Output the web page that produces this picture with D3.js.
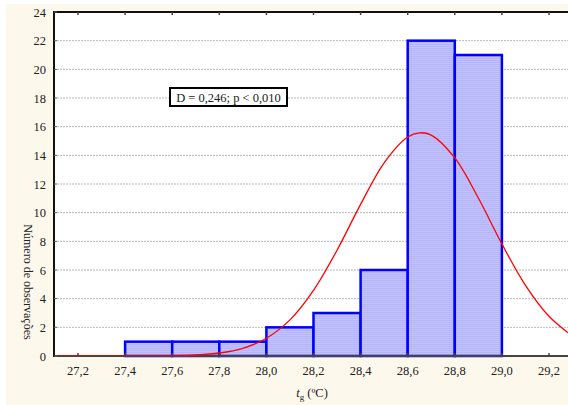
<!DOCTYPE html>
<html>
<head>
<meta charset="utf-8">
<script src="https://cdn.jsdelivr.net/npm/d3@7"></script>
<style>
  html, body { margin: 0; padding: 0; background: #fff; }
  svg { display: block; }
  text { font-family: "Liberation Serif", "DejaVu Serif", serif; fill: #222; }
</style>
</head>
<body>
<svg id="chart"></svg>
<script>
// histogram classes (lower edge) and counts
const binStarts = [27.4, 27.6, 27.8, 28.0, 28.2, 28.4, 28.6, 28.8]
const binWidth = 0.2
const counts = [1, 1, 1, 2, 3, 6, 22, 21]

// fitted normal curve
const curveX = [27.1, 27.2, 27.3, 27.4, 27.5, 27.6, 27.7, 27.8, 27.9, 28.0, 28.1, 28.2, 28.3, 28.4, 28.5, 28.6, 28.65, 28.7, 28.8, 28.9, 29.0, 29.1, 29.2, 29.3]
const curveY = [0, 0, 0, 0, 0.01, 0.02, 0.07, 0.21, 0.54, 1.24, 2.52, 4.58, 7.38, 10.58, 13.48, 15.28, 15.57, 15.41, 13.82, 11.02, 7.82, 4.93, 2.77, 1.38]

const xTicks = [27.2, 27.4, 27.6, 27.8, 28.0, 28.2, 28.4, 28.6, 28.8, 29.0, 29.2]
const yTicks = [0, 2, 4, 6, 8, 10, 12, 14, 16, 18, 20, 22, 24]
const annotation = 'D = 0,246; p < 0,010'

const width = 568, height = 405
const svg = d3.select('#chart').attr('width', width).attr('height', height)

const plotLeft = 54, plotTop = 12, plotBottom = 356

const x = d3.scaleLinear().domain([27.2, 29.2]).range([78, 549])
const y = d3.scaleLinear().domain([0, 24]).range([plotBottom, plotTop])
const fmt = d => d3.format('.1f')(d).replace('.', ',')

// cream page background
svg.append('rect').attr('x', 6).attr('y', 4).attr('width', width - 6).attr('height', height - 4)
  .attr('fill', '#fdf8ec')

// plot area
svg.append('rect').attr('x', plotLeft).attr('y', plotTop).attr('width', width - plotLeft).attr('height', plotBottom - plotTop)
  .attr('fill', '#fff')

const defs = svg.append('defs')
defs.append('clipPath').attr('id', 'plotclip')
  .append('rect').attr('x', plotLeft).attr('y', plotTop).attr('width', width - plotLeft).attr('height', plotBottom - plotTop)

const pat = defs.append('pattern').attr('id', 'stripes')
  .attr('patternUnits', 'userSpaceOnUse').attr('width', 4).attr('height', 2)
pat.append('rect').attr('width', 4).attr('height', 2).attr('fill', '#c2c2ff')
pat.append('rect').attr('width', 4).attr('height', 1).attr('fill', '#b4b4f6')

// grid
svg.append('g').selectAll('line')
  .data(yTicks.filter(d => d > 0 && d < 24))
  .enter().append('line')
  .attr('x1', plotLeft).attr('x2', width)
  .attr('y1', d => y(d)).attr('y2', d => y(d))
  .attr('stroke', '#b8b8b8').attr('stroke-width', 1)
  .attr('stroke-dasharray', '2,1')

// bars
svg.append('g').selectAll('rect')
  .data(counts)
  .enter().append('rect')
  .attr('x', (d, i) => x(binStarts[i]))
  .attr('y', d => y(d))
  .attr('width', (d, i) => x(binStarts[i] + binWidth) - x(binStarts[i]))
  .attr('height', d => y(0) - y(d))
  .attr('fill', 'url(#stripes)')
  .attr('stroke', '#0000ff').attr('stroke-width', 2.5)

// axes lines
svg.append('line').attr('x1', plotLeft).attr('x2', width).attr('y1', plotBottom).attr('y2', plotBottom)
  .attr('stroke', '#444').attr('stroke-width', 2)
svg.append('line').attr('x1', plotLeft).attr('x2', width).attr('y1', plotTop).attr('y2', plotTop)
  .attr('stroke', '#111').attr('stroke-width', 2)
svg.append('line').attr('x1', plotLeft).attr('x2', plotLeft).attr('y1', plotTop - 1).attr('y2', plotBottom + 1)
  .attr('stroke', '#111').attr('stroke-width', 2)

// fitted curve
const line = d3.line()
  .x((d, i) => x(curveX[i]))
  .y(d => y(d))
  .curve(d3.curveCatmullRom)
svg.append('path').datum(curveY)
  .attr('clip-path', 'url(#plotclip)')
  .attr('d', line)
  .attr('fill', 'none')
  .attr('stroke', '#ff0000').attr('stroke-width', 1.3)

// x axis ticks (inward) and labels
const xg = svg.append('g')
xTicks.forEach(t => {
  xg.append('line').attr('x1', x(t)).attr('x2', x(t)).attr('y1', plotBottom).attr('y2', plotBottom - 3)
    .attr('stroke', '#444').attr('stroke-width', 1.5)
  xg.append('line').attr('x1', x(t)).attr('x2', x(t)).attr('y1', plotTop).attr('y2', plotTop + 3)
    .attr('stroke', '#444').attr('stroke-width', 1.5)
  xg.append('text').attr('x', x(t)).attr('y', 375)
    .attr('text-anchor', 'middle').attr('font-size', 12.5)
    .text(fmt(t))
})

// y axis ticks and labels
const yg = svg.append('g')
yTicks.forEach(t => {
  yg.append('line').attr('x1', plotLeft).attr('x2', plotLeft + 3).attr('y1', y(t)).attr('y2', y(t))
    .attr('stroke', '#666').attr('stroke-width', 1)
  yg.append('text').attr('x', 46).attr('y', y(t) + 4.5)
    .attr('text-anchor', 'end').attr('font-size', 12.5)
    .text(t)
})

// axis titles
const xt = svg.append('text').attr('x', 312).attr('y', 397)
  .attr('text-anchor', 'middle').attr('font-size', 12.5)
xt.append('tspan').attr('font-style', 'italic').text('t')
xt.append('tspan').attr('font-size', 9).attr('dy', 3).text('g')
xt.append('tspan').attr('dy', -3).text(' (ºC)')

svg.append('text')
  .attr('transform', 'translate(24,282) rotate(90)')
  .attr('text-anchor', 'middle').attr('font-size', 12)
  .text('Número de observações')

// statistic box
svg.append('rect').attr('x', 170).attr('y', 88).attr('width', 117).attr('height', 18)
  .attr('fill', '#fff').attr('stroke', '#000').attr('stroke-width', 2)
svg.append('text').attr('x', 228.5).attr('y', 101.5)
  .attr('text-anchor', 'middle').attr('font-size', 12.5)
  .text(annotation)
</script>
</body>
</html>
